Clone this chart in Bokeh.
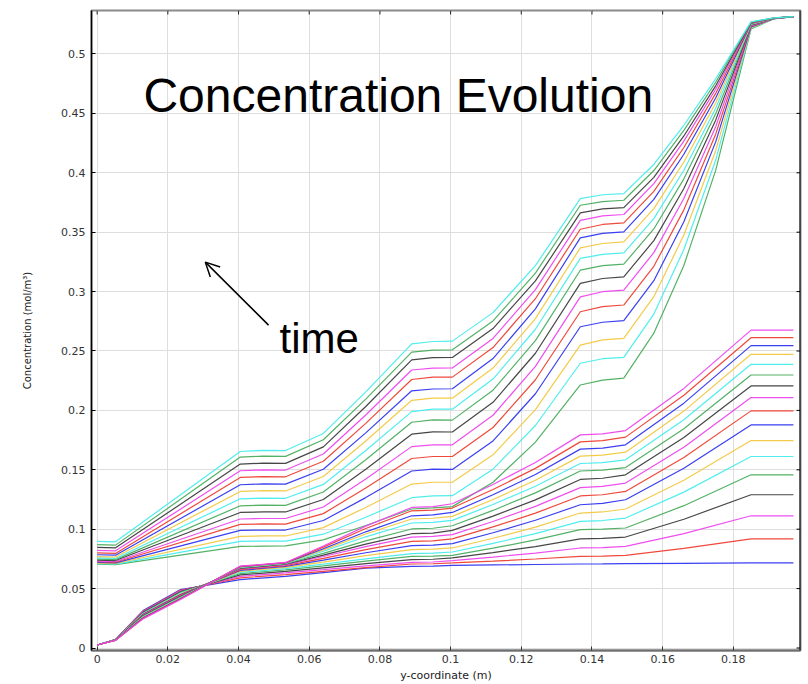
from math import pi

from bokeh.plotting import figure
from bokeh.models import (Range1d, Label, Arrow, OpenHead, Span,
                          FixedTicker, CustomJSTickFormatter)
from bokeh.embed import file_html
from bokeh.resources import INLINE

# ---------------------------------------------------------------------------
# Concentration profiles along the y-coordinate, one curve per saved time step.
# Two groups of curves: the "upper" profiles (16 time steps) and the "lower"
# profiles (17 time steps).  Each list below holds the concentration of every
# time step (earliest first) at one mesh node.
# ---------------------------------------------------------------------------

# mesh nodes of the upper profiles (m)
upper_y_coord = [0.0, 0.0052, 0.0405, 0.047, 0.0533, 0.064, 0.076, 0.089, 0.095,
                 0.1005, 0.112, 0.124, 0.1367, 0.143, 0.149, 0.1575, 0.166,
                 0.175, 0.185, 0.1915, 0.197]

# upper profiles: concentration (mol/m^3) at each node, time steps 1..16
up_0000 = [0.0705, 0.0710, 0.0715, 0.0720, 0.0726, 0.0732, 0.0740, 0.0748, 0.0758, 0.0770, 0.0785, 0.0800, 0.0822, 0.0847, 0.0870, 0.0898]
up_0052 = [0.0702, 0.0706, 0.0711, 0.0716, 0.0722, 0.0728, 0.0736, 0.0744, 0.0754, 0.0766, 0.0781, 0.0796, 0.0818, 0.0843, 0.0866, 0.0894]
up_0405 = [0.0855, 0.0898, 0.0940, 0.0990, 0.1040, 0.1086, 0.1141, 0.1197, 0.1256, 0.1318, 0.1374, 0.1436, 0.1492, 0.1548, 0.1607, 0.1654]
up_0470 = [0.0857, 0.0900, 0.0943, 0.0993, 0.1044, 0.1090, 0.1146, 0.1202, 0.1262, 0.1324, 0.1381, 0.1443, 0.1500, 0.1556, 0.1615, 0.1664]
up_0533 = [0.0860, 0.0900, 0.0943, 0.0993, 0.1043, 0.1090, 0.1145, 0.1201, 0.1260, 0.1322, 0.1379, 0.1441, 0.1498, 0.1554, 0.1613, 0.1662]
up_0640 = [0.0910, 0.0958, 0.1013, 0.1073, 0.1131, 0.1187, 0.1250, 0.1313, 0.1377, 0.1444, 0.1505, 0.1572, 0.1633, 0.1693, 0.1753, 0.1806]
up_0760 = [0.1031, 0.1101, 0.1183, 0.1266, 0.1347, 0.1423, 0.1505, 0.1585, 0.1662, 0.1742, 0.1811, 0.1891, 0.1961, 0.2033, 0.2095, 0.2156]
up_0890 = [0.1170, 0.1265, 0.1380, 0.1490, 0.1595, 0.1695, 0.1800, 0.1900, 0.1990, 0.2085, 0.2165, 0.2260, 0.2340, 0.2425, 0.2490, 0.2560]
up_0950 = [0.1180, 0.1280, 0.1395, 0.1505, 0.1612, 0.1710, 0.1820, 0.1920, 0.2010, 0.2103, 0.2180, 0.2280, 0.2355, 0.2444, 0.2508, 0.2580]
up_1005 = [0.1190, 0.1282, 0.1395, 0.1503, 0.1612, 0.1710, 0.1818, 0.1918, 0.2010, 0.2103, 0.2182, 0.2280, 0.2357, 0.2446, 0.2510, 0.2583]
up_1120 = [0.1395, 0.1505, 0.1626, 0.1743, 0.1856, 0.1959, 0.2068, 0.2170, 0.2264, 0.2356, 0.2436, 0.2529, 0.2606, 0.2689, 0.2753, 0.2823]
up_1240 = [0.1733, 0.1873, 0.2007, 0.2140, 0.2258, 0.2370, 0.2481, 0.2587, 0.2683, 0.2773, 0.2855, 0.2940, 0.3016, 0.3090, 0.3155, 0.3219]
up_1367 = [0.2214, 0.2397, 0.2550, 0.2704, 0.2830, 0.2956, 0.3069, 0.3180, 0.3279, 0.3368, 0.3452, 0.3525, 0.3600, 0.3662, 0.3727, 0.3783]
up_1430 = [0.2255, 0.2435, 0.2593, 0.2742, 0.2873, 0.2999, 0.3110, 0.3218, 0.3314, 0.3405, 0.3490, 0.3565, 0.3637, 0.3696, 0.3758, 0.3815]
up_1490 = [0.2271, 0.2447, 0.2607, 0.2755, 0.2887, 0.3013, 0.3124, 0.3231, 0.3326, 0.3418, 0.3503, 0.3578, 0.3649, 0.3707, 0.3769, 0.3825]
up_1575 = [0.2650, 0.2811, 0.2957, 0.3092, 0.3213, 0.3328, 0.3429, 0.3527, 0.3614, 0.3698, 0.3776, 0.3844, 0.3909, 0.3962, 0.4019, 0.4070]
up_1660 = [0.3220, 0.3354, 0.3476, 0.3588, 0.3688, 0.3784, 0.3868, 0.3949, 0.4021, 0.4091, 0.4156, 0.4213, 0.4266, 0.4310, 0.4357, 0.4400]
up_1750 = [0.4020, 0.4107, 0.4186, 0.4260, 0.4325, 0.4388, 0.4443, 0.4496, 0.4543, 0.4588, 0.4630, 0.4668, 0.4703, 0.4732, 0.4762, 0.4790]
up_1850 = [0.5210, 0.5216, 0.5221, 0.5227, 0.5232, 0.5237, 0.5242, 0.5246, 0.5250, 0.5253, 0.5257, 0.5260, 0.5263, 0.5265, 0.5268, 0.5270]
up_1915 = [0.5296, 0.5297, 0.5297, 0.5298, 0.5299, 0.5299, 0.5300, 0.5300, 0.5301, 0.5301, 0.5302, 0.5302, 0.5303, 0.5303, 0.5304, 0.5304]
up_1970 = [0.5315, 0.5315, 0.5315, 0.5315, 0.5315, 0.5315, 0.5315, 0.5315, 0.5315, 0.5315, 0.5315, 0.5315, 0.5315, 0.5315, 0.5315, 0.5315]

# mesh nodes of the lower profiles (m)
lower_y_coord = [0.0, 0.0052, 0.013, 0.0236, 0.0405, 0.0533, 0.064, 0.076, 0.089,
                 0.095, 0.1005, 0.112, 0.124, 0.1367, 0.143, 0.1495, 0.166,
                 0.185, 0.197]

# lower profiles: concentration (mol/m^3) at each node, time steps 1..17
lo_0000 = [0.0025, 0.0025, 0.0025, 0.0025, 0.0025, 0.0025, 0.0025, 0.0025, 0.0025, 0.0025, 0.0025, 0.0025, 0.0025, 0.0025, 0.0025, 0.0025, 0.0025]
lo_0052 = [0.0072, 0.0071, 0.0071, 0.0070, 0.0070, 0.0069, 0.0069, 0.0068, 0.0068, 0.0067, 0.0067, 0.0066, 0.0066, 0.0065, 0.0065, 0.0064, 0.0064]
lo_0130 = [0.0315, 0.0310, 0.0305, 0.0300, 0.0295, 0.0291, 0.0287, 0.0283, 0.0279, 0.0275, 0.0271, 0.0267, 0.0263, 0.0259, 0.0255, 0.0250, 0.0245]
lo_0236 = [0.0492, 0.0486, 0.0480, 0.0474, 0.0468, 0.0462, 0.0456, 0.0450, 0.0445, 0.0440, 0.0435, 0.0430, 0.0425, 0.0420, 0.0416, 0.0412, 0.0408]
lo_0405 = [0.0576, 0.0590, 0.0603, 0.0615, 0.0626, 0.0636, 0.0645, 0.0653, 0.0660, 0.0666, 0.0671, 0.0675, 0.0679, 0.0682, 0.0685, 0.0687, 0.0689]
lo_0533 = [0.0603, 0.0618, 0.0632, 0.0645, 0.0657, 0.0668, 0.0678, 0.0687, 0.0694, 0.0700, 0.0705, 0.0709, 0.0712, 0.0714, 0.0716, 0.0718, 0.0720]
lo_0640 = [0.0635, 0.0645, 0.0659, 0.0675, 0.0691, 0.0706, 0.0723, 0.0739, 0.0755, 0.0770, 0.0782, 0.0797, 0.0814, 0.0826, 0.0835, 0.0849, 0.0859]
lo_0760 = [0.0672, 0.0677, 0.0691, 0.0710, 0.0732, 0.0751, 0.0777, 0.0802, 0.0828, 0.0854, 0.0875, 0.0902, 0.0936, 0.0960, 0.0978, 0.1006, 0.1026]
lo_0890 = [0.0687, 0.0707, 0.0721, 0.0744, 0.0771, 0.0794, 0.0828, 0.0861, 0.0897, 0.0934, 0.0962, 0.1002, 0.1052, 0.1086, 0.1113, 0.1155, 0.1183]
lo_0950 = [0.0690, 0.0709, 0.0724, 0.0747, 0.0774, 0.0798, 0.0832, 0.0866, 0.0902, 0.0939, 0.0967, 0.1008, 0.1057, 0.1092, 0.1120, 0.1161, 0.1190]
lo_1005 = [0.0696, 0.0716, 0.0735, 0.0758, 0.0780, 0.0808, 0.0842, 0.0878, 0.0918, 0.0954, 0.0990, 0.1029, 0.1074, 0.1108, 0.1141, 0.1178, 0.1214]
lo_1120 = [0.0699, 0.0731, 0.0765, 0.0803, 0.0840, 0.0880, 0.0924, 0.0970, 0.1019, 0.1065, 0.1110, 0.1158, 0.1208, 0.1250, 0.1290, 0.1334, 0.1376]
lo_1240 = [0.0703, 0.0749, 0.0799, 0.0854, 0.0910, 0.0963, 0.1018, 0.1075, 0.1135, 0.1192, 0.1247, 0.1306, 0.1361, 0.1412, 0.1461, 0.1512, 0.1562]
lo_1367 = [0.0707, 0.0771, 0.0842, 0.0918, 0.0996, 0.1066, 0.1136, 0.1206, 0.1280, 0.1350, 0.1419, 0.1490, 0.1553, 0.1615, 0.1674, 0.1735, 0.1794]
lo_1430 = [0.0708, 0.0773, 0.0845, 0.0922, 0.1000, 0.1073, 0.1145, 0.1217, 0.1290, 0.1360, 0.1429, 0.1497, 0.1561, 0.1623, 0.1683, 0.1745, 0.1803]
lo_1495 = [0.0710, 0.0780, 0.0855, 0.0934, 0.1010, 0.1094, 0.1170, 0.1248, 0.1318, 0.1388, 0.1458, 0.1519, 0.1584, 0.1648, 0.1710, 0.1775, 0.1830]
lo_1660 = [0.0713, 0.0838, 0.0963, 0.1084, 0.1198, 0.1312, 0.1412, 0.1513, 0.1603, 0.1690, 0.1772, 0.1846, 0.1922, 0.1994, 0.2061, 0.2127, 0.2185]
lo_1850 = [0.0716, 0.0918, 0.1113, 0.1290, 0.1458, 0.1612, 0.1746, 0.1878, 0.1996, 0.2108, 0.2206, 0.2298, 0.2388, 0.2472, 0.2545, 0.2612, 0.2676]
lo_1970 = [0.0716, 0.0918, 0.1113, 0.1290, 0.1458, 0.1612, 0.1746, 0.1878, 0.1996, 0.2108, 0.2206, 0.2298, 0.2388, 0.2472, 0.2545, 0.2612, 0.2676]

upper_nodes = [up_0000, up_0052, up_0405, up_0470, up_0533, up_0640, up_0760,
               up_0890, up_0950, up_1005, up_1120, up_1240, up_1367, up_1430,
               up_1490, up_1575, up_1660, up_1750, up_1850, up_1915, up_1970]
lower_nodes = [lo_0000, lo_0052, lo_0130, lo_0236, lo_0405, lo_0533, lo_0640,
               lo_0760, lo_0890, lo_0950, lo_1005, lo_1120, lo_1240, lo_1367,
               lo_1430, lo_1495, lo_1660, lo_1850, lo_1970]

x_ticks = [0, 0.02, 0.04, 0.06, 0.08, 0.1, 0.12, 0.14, 0.16, 0.18]
y_ticks = [0, 0.05, 0.1, 0.15, 0.2, 0.25, 0.3, 0.35, 0.4, 0.45, 0.5]

# line colour cycle: blue, green, red, cyan, magenta, yellow, black
line_colors = ["#2f35f0", "#4aad5e", "#ee3f31", "#47ecec", "#ee45ee", "#f2c840", "#3c3c3c"]

# ---------------------------------------------------------------------------
x_rng = Range1d(-0.0016, 0.199)
y_rng = Range1d(-0.0021, 0.5366)

p = figure(width=808, height=684, output_backend="svg", toolbar_location=None,
           x_range=x_rng, y_range=y_rng,
           min_border_left=91, min_border_right=8, min_border_top=10,
           min_border_bottom=33, background_fill_color="white",
           border_fill_color="white")
p.outline_line_color = "#8a8a8a"
p.outline_line_width = 2

fmt = CustomJSTickFormatter(code="""
    return tick.toFixed(3).replace(/0+$/, '').replace(/\\.$/, '');
""")

p.xaxis.ticker = FixedTicker(ticks=x_ticks)
p.yaxis.ticker = FixedTicker(ticks=y_ticks)
p.xaxis.formatter = fmt
p.yaxis.formatter = fmt

for ax in (p.xaxis[0], p.yaxis[0]):
    ax.major_tick_in = 4
    ax.major_tick_out = 0
    ax.minor_tick_line_color = None
    ax.major_label_text_font = "DejaVu Sans"
    ax.major_label_text_font_size = "11px"
    ax.major_label_text_color = "#333333"
    ax.axis_label_text_font = "DejaVu Sans"
    ax.axis_label_text_font_style = "normal"
    ax.axis_label_text_color = "#222222"

p.xaxis.axis_label = "y-coordinate (m)"
p.xaxis.axis_label_text_font_size = "11px"
p.xaxis.axis_label_standoff = 3
p.xaxis.major_label_standoff = 4
p.xaxis.axis_line_color = "#6e6e6e"
p.xaxis.axis_line_width = 2
p.xaxis.major_tick_line_color = "#333333"

p.yaxis.axis_label = "Concentration (mol/m³)"
p.yaxis.axis_label_text_font_size = "10px"
p.yaxis.axis_label_standoff = 25
p.yaxis.major_label_standoff = 6
p.yaxis.axis_line_color = "black"
p.yaxis.axis_line_width = 1.5

# right frame edge in black, as the left axis line
p.add_layout(Span(location=x_rng.end, dimension="height",
                  line_color="black", line_width=2))

# mirrored inward ticks along the top and right frame edges
p.ray(x=x_ticks, y=[y_rng.end] * len(x_ticks), length=4, length_units="screen",
      angle=-pi / 2, line_color="#222222", line_width=1)
p.ray(x=[x_rng.end] * len(y_ticks), y=y_ticks, length=4, length_units="screen",
      angle=pi, line_color="black", line_width=1)

p.xgrid.grid_line_color = "#dedede"
p.ygrid.grid_line_color = "#dedede"
p.xgrid.grid_line_width = 1
p.ygrid.grid_line_width = 1

# time steps alternate between the lower and the upper profile groups
n_lower = len(lower_nodes[0])
n_upper = len(upper_nodes[0])
for step in range(n_lower + n_upper):
    color = line_colors[step % len(line_colors)]
    if step % 2 == 0:
        j = step // 2
        xs = lower_y_coord
        ys = [node[j] for node in lower_nodes]
    else:
        i = step // 2
        xs = upper_y_coord
        ys = [node[i] for node in upper_nodes]
    p.line(xs, ys, line_color=color, line_width=1.2, line_alpha=0.95)

# annotations
p.add_layout(Label(x=0.0131, y=0.4651, text="Concentration Evolution",
                   text_font="Liberation Sans", text_font_size="48px",
                   text_color="black", text_baseline="alphabetic"))
p.add_layout(Label(x=0.0516, y=0.2609, text="time",
                   text_font="Liberation Sans", text_font_size="42px",
                   text_color="black", text_baseline="alphabetic"))
p.add_layout(Arrow(end=OpenHead(size=14, line_width=1.5, line_color="black"),
                   x_start=0.0485, y_start=0.2718, x_end=0.0306, y_end=0.3248,
                   line_width=1.5, line_color="black"))

open("out.html", "w").write(file_html(p, INLINE))
